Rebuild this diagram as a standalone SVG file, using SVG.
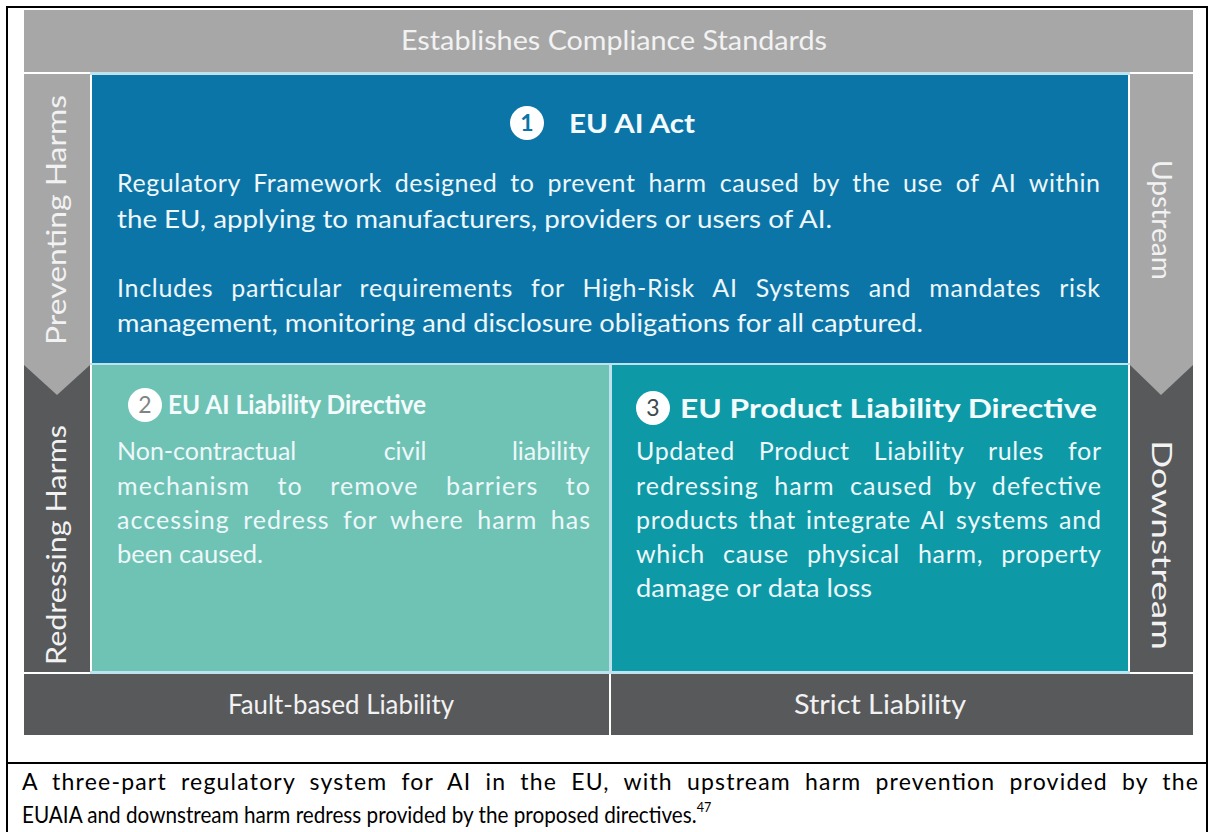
<svg xmlns="http://www.w3.org/2000/svg" width="1209" height="832" viewBox="0 0 1209 832">
<style>
  .lbl { font-family: Lato, "Open Sans", sans-serif; fill: #f2f2f2; }
  .body { font-family: Lato, "Open Sans", sans-serif; font-size: 25px; fill: #eef7fa; }
  .title { font-family: Lato, "Open Sans", sans-serif; font-size: 27px; font-weight: bold; fill: #f4fbfc; }
  .num { font-family: Lato, "Open Sans", sans-serif; font-size: 23px; text-anchor: middle; }
  .cap { font-family: Lato, "Open Sans", sans-serif; font-size: 23px; fill: #000; }
</style>
<rect x="0" y="0" width="1209" height="832" fill="#ffffff"/>
<!-- outer frame -->
<g id="frame" fill="none" stroke="#000" stroke-width="2">
  <polyline points="7,840 7,7 1207,7 1207,840"/>
  <line x1="7" y1="763" x2="1207" y2="763"/>
</g>
<!-- top band -->
<g id="top-band">
  <rect x="24" y="10" width="1169" height="62" fill="#a7a7a7"/>
  <text class="lbl" x="614" y="50" font-size="26" text-anchor="middle" textLength="426" lengthAdjust="spacingAndGlyphs">Establishes Compliance Standards</text>
</g>
<!-- left bar -->
<g id="left-bar">
  <rect x="24" y="74" width="66" height="598" fill="#58595b"/>
  <polygon points="24,74 90,74 90,365 57,395 24,365" fill="#a7a7a7"/>
  <text class="lbl" font-size="26" text-anchor="middle" transform="translate(66,220) rotate(-90)" textLength="250" lengthAdjust="spacingAndGlyphs">Preventing Harms</text>
  <text class="lbl" font-size="26" text-anchor="middle" transform="translate(66,545) rotate(-90)" textLength="240" lengthAdjust="spacingAndGlyphs">Redressing Harms</text>
</g>
<!-- right bar -->
<g id="right-bar">
  <rect x="1130" y="74" width="63" height="598" fill="#58595b"/>
  <polygon points="1130,74 1193,74 1193,365 1161,395 1130,365" fill="#a7a7a7"/>
  <text class="lbl" font-size="26" text-anchor="middle" transform="translate(1152,220) rotate(90)" textLength="120" lengthAdjust="spacingAndGlyphs">Upstream</text>
  <text class="lbl" font-size="26" text-anchor="middle" transform="translate(1152,545) rotate(90)" textLength="210" lengthAdjust="spacingAndGlyphs">Downstream</text>
</g>
<!-- separators -->
<rect x="90" y="72" width="1040" height="3" fill="#bfe2ef"/>
<!-- box 1 -->
<g id="eu-ai-act">
  <rect x="92" y="75" width="1036" height="288" fill="#0c75a8"/>
  <circle cx="527" cy="123" r="17" fill="#ffffff"/>
  <text class="num" x="527" y="131" fill="#0c75a8" font-weight="bold">1</text>
  <text class="title" x="569" y="133" textLength="126" lengthAdjust="spacingAndGlyphs">EU AI Act</text>
  <text class="body" x="117" y="192" word-spacing="6" textLength="983">Regulatory Framework designed to prevent harm caused by the use of AI within</text>
  <text class="body" x="117" y="228" textLength="715" lengthAdjust="spacingAndGlyphs">the EU, applying to manufacturers, providers or users of AI.</text>
  <text class="body" x="117" y="297" word-spacing="11" textLength="983">Includes particular requirements for High-Risk AI Systems and mandates risk</text>
  <text class="body" x="117" y="332" textLength="806" lengthAdjust="spacingAndGlyphs">management, monitoring and disclosure obligations for all captured.</text>
</g>
<rect x="90" y="363" width="1040" height="2" fill="#bfe2ef"/>
<!-- box 2 -->
<g id="eu-ai-liability">
  <rect x="92" y="365" width="517" height="306" fill="#6fc3b4"/>
  <circle cx="145" cy="405" r="17" fill="#ffffff"/>
  <text class="num" x="145" y="413" fill="#7f8585">2</text>
  <text class="title" x="168" y="414" font-size="26" textLength="258" lengthAdjust="spacingAndGlyphs">EU AI Liability Directive</text>
  <text class="body" x="117" y="460">Non-contractual</text>
  <text class="body" x="405" y="460" text-anchor="middle">civil</text>
  <text class="body" x="590" y="460" text-anchor="end">liability</text>
  <text class="body" x="117" y="495" word-spacing="20" textLength="473">mechanism to remove barriers to</text>
  <text class="body" x="117" y="529" word-spacing="6" textLength="473">accessing redress for where harm has</text>
  <text class="body" x="117" y="563" textLength="146" lengthAdjust="spacingAndGlyphs">been caused.</text>
</g>
<rect x="609" y="365" width="3" height="306" fill="#bfe2ef"/>
<!-- box 3 -->
<g id="eu-product-liability">
  <rect x="612" y="365" width="516" height="306" fill="#0e99a6"/>
  <circle cx="653" cy="408" r="17" fill="#ffffff"/>
  <text class="num" x="653" y="416" fill="#3c4a4d">3</text>
  <text class="title" x="680" y="418" font-size="26" textLength="417" lengthAdjust="spacingAndGlyphs">EU Product Liability Directive</text>
  <text class="body" x="636" y="460" word-spacing="17" textLength="465">Updated Product Liability rules for</text>
  <text class="body" x="636" y="495" word-spacing="8" textLength="465">redressing harm caused by defective</text>
  <text class="body" x="636" y="529" word-spacing="3" textLength="465">products that integrate AI systems and</text>
  <text class="body" x="636" y="563" word-spacing="11" textLength="465">which cause physical harm, property</text>
  <text class="body" x="636" y="597" textLength="236" lengthAdjust="spacingAndGlyphs">damage or data loss</text>
</g>
<rect x="90" y="671" width="1040" height="3" fill="#bfe2ef"/>
<!-- bottom band -->
<g id="bottom-band">
  <rect x="24" y="674" width="585" height="61" fill="#58595b"/>
  <rect x="611" y="674" width="582" height="61" fill="#58595b"/>
  <text class="lbl" x="341" y="714" font-size="26" text-anchor="middle" textLength="226" lengthAdjust="spacingAndGlyphs">Fault-based Liability</text>
  <text class="lbl" x="880" y="714" font-size="26" text-anchor="middle" textLength="172" lengthAdjust="spacingAndGlyphs">Strict Liability</text>
</g>
<!-- caption -->
<g id="caption">
  <text class="cap" x="22" y="790" word-spacing="7" textLength="1176">A three-part regulatory system for AI in the EU, with upstream harm prevention provided by the</text>
  <text class="cap" transform="translate(22,823) scale(0.9,1)">EUAIA and downstream harm redress provided by the proposed directives.<tspan dy="-11" font-size="14">47</tspan></text>
</g>
</svg>
